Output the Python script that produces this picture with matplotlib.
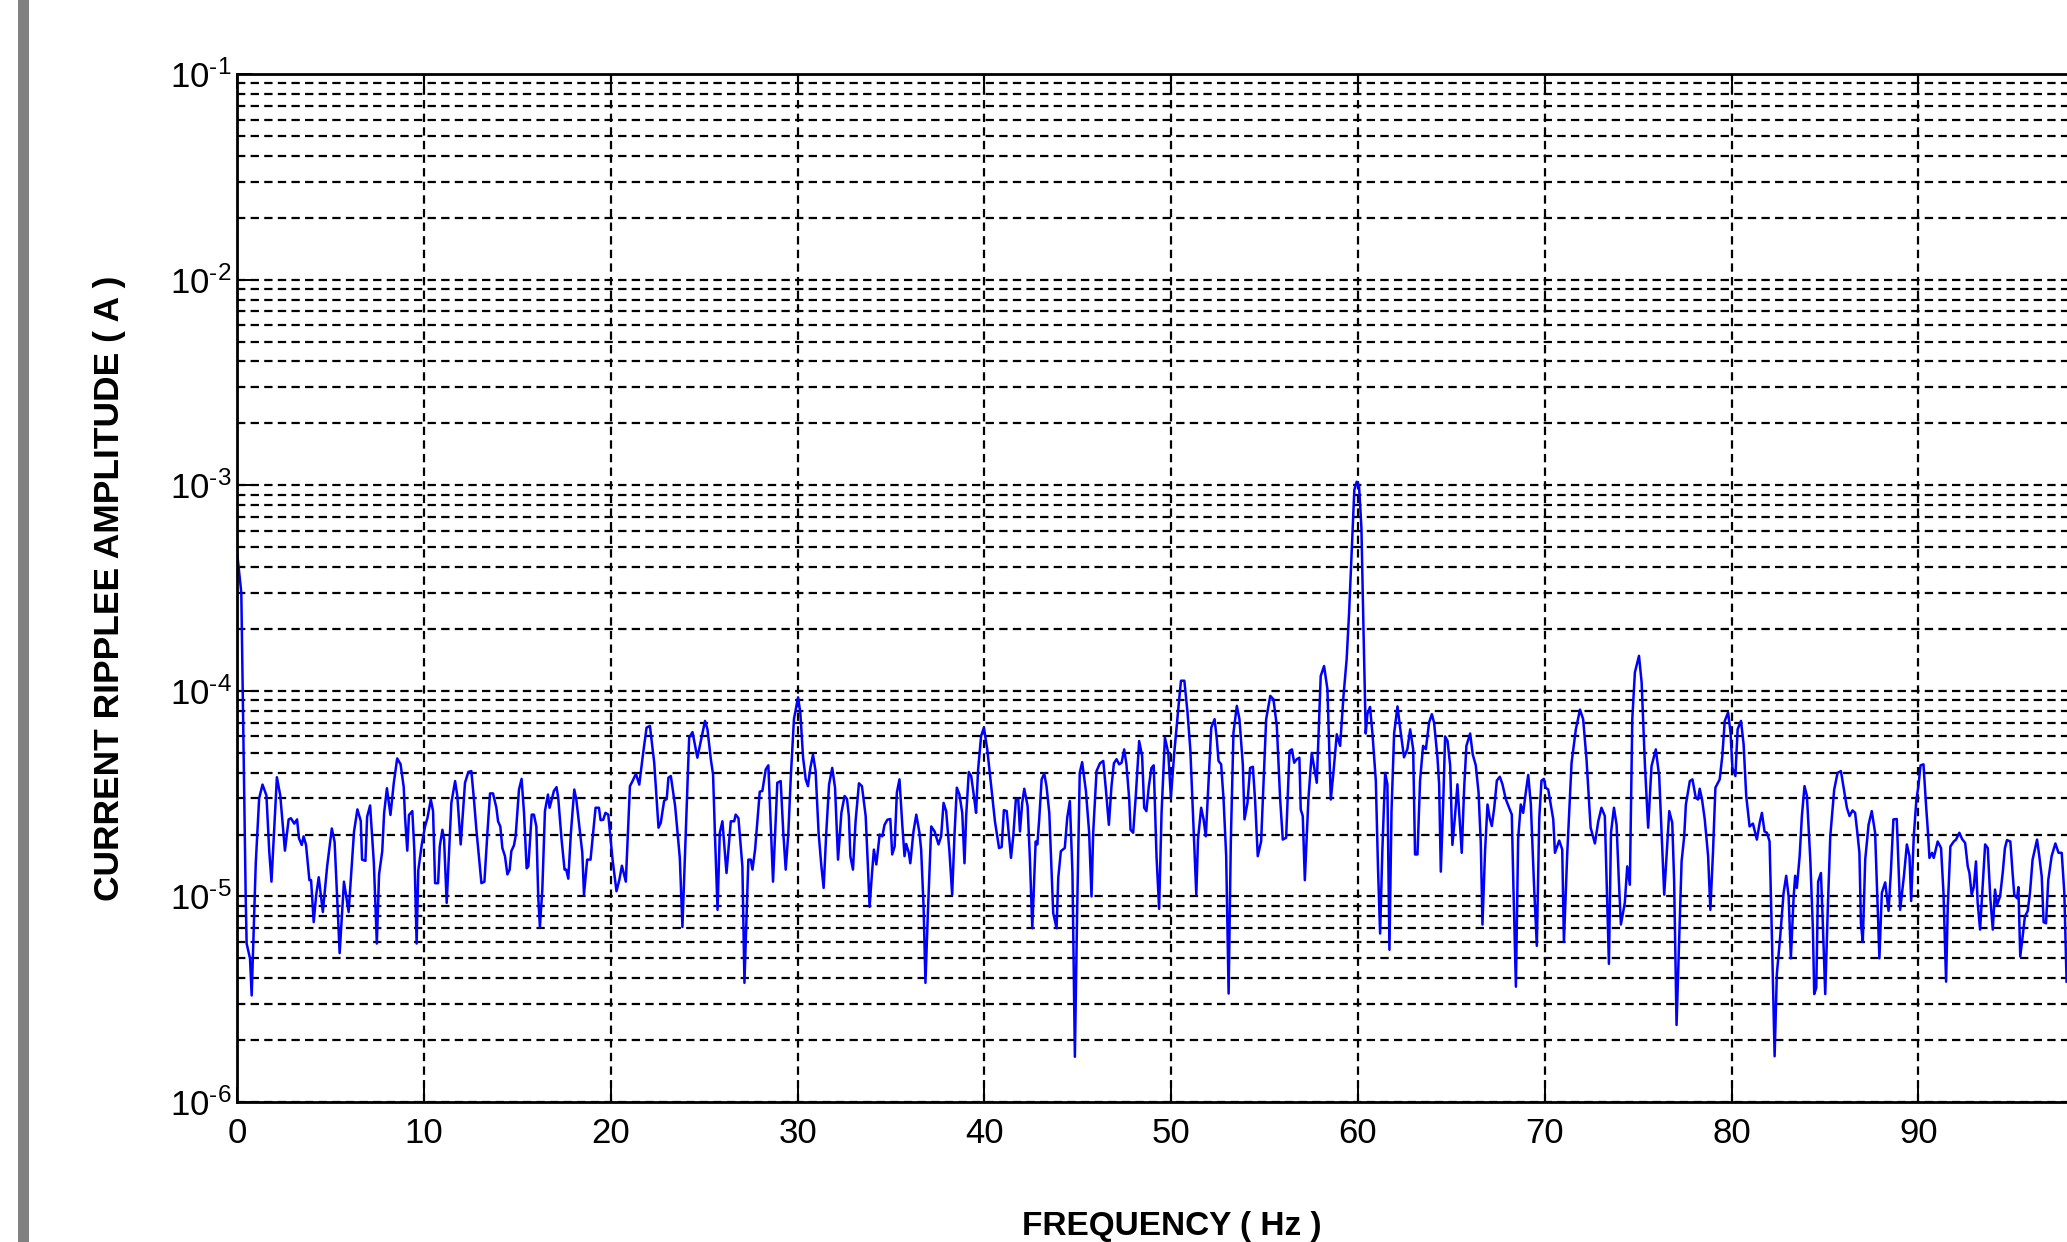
import numpy as np
import matplotlib
matplotlib.use("Agg")
import matplotlib.pyplot as plt
from matplotlib.patches import Rectangle
from matplotlib.ticker import FuncFormatter

# spectrum, (frequency Hz, amplitude uA) per 10 Hz block
seg_00_10 = [
    (0.0, 460), (0.215, 300), (0.45, 9.9), (0.5, 5.9), (0.68, 5.0), (0.77, 3.3),
    (0.99, 14.6), (1.17, 30), (1.35, 35), (1.56, 31), (1.71, 16.6), (1.83, 11.8),
    (2.12, 38), (2.30, 31), (2.55, 16.7), (2.75, 23.7), (2.87, 24), (3.05, 22.6),
    (3.2, 23.7), (3.3, 19.2), (3.45, 17.8), (3.55, 19.6), (3.68, 17.8), (3.86, 12),
    (3.95, 12), (4.09, 7.5), (4.22, 10.1), (4.36, 12.4), (4.58, 8.4), (4.81, 14),
    (5.06, 21.4), (5.21, 18.4), (5.48, 5.3), (5.71, 11.8), (5.96, 8.4), (6.25, 20.7),
    (6.43, 26.5), (6.61, 23.3), (6.68, 15.1), (6.86, 14.9), (6.95, 24.4), (7.11, 27.7),
    (7.31, 14.6), (7.47, 5.9), (7.59, 12.8), (7.76, 16.6), (7.86, 25.4), (8.01, 33.6),
    (8.2, 24.9), (8.38, 35.8), (8.56, 46.9), (8.74, 44), (8.91, 34), (8.98, 24.3),
    (9.1, 16.7), (9.19, 24.9), (9.37, 26), (9.48, 16.6), (9.6, 5.9), (9.69, 13.4),
    (9.88, 18),
]
seg_10_20 = [
    (10.05, 21.9), (10.18, 24.1), (10.36, 29.6), (10.48, 26), (10.59, 11.6), (10.75, 11.6),
    (10.84, 17.5), (10.98, 21.1), (11.07, 18.9), (11.21, 9.3), (11.46, 28.5), (11.66, 36.4),
    (11.78, 30.8), (11.96, 17.9), (12.19, 35.7), (12.37, 40.3), (12.53, 40.7), (12.67, 29.6),
    (12.8, 21.1), (13.07, 11.6), (13.23, 11.8), (13.39, 20.4), (13.53, 31.7), (13.69, 31.7),
    (13.87, 27), (13.96, 23.2), (14.08, 21.9), (14.19, 17.2), (14.33, 15.7), (14.46, 12.8),
    (14.58, 13.5), (14.67, 16.6), (14.81, 17.7), (14.9, 19.6), (15.08, 33.1), (15.22, 37.3),
    (15.35, 25.5), (15.49, 13.7), (15.58, 14), (15.76, 25), (15.88, 25), (16.01, 21.9),
    (16.11, 10), (16.2, 7.1), (16.33, 10.8), (16.47, 26), (16.63, 31.3), (16.72, 27),
    (16.86, 30.2), (16.95, 32.6), (17.09, 34), (17.18, 30.2), (17.36, 18.9), (17.52, 13.5),
    (17.61, 13.5), (17.72, 12.2), (17.86, 20.4), (18.04, 33.1), (18.15, 29.6), (18.29, 22.8),
    (18.47, 16.3), (18.56, 10.2), (18.73, 15.1), (18.91, 15.1), (19.04, 20), (19.18, 27),
    (19.36, 27), (19.45, 23.5), (19.59, 23.6), (19.71, 25.5), (19.86, 25),
]
seg_20_30 = [
    (20.09, 15.1), (20.3, 10.6), (20.45, 12), (20.59, 14.1), (20.8, 11.8), (21.02, 34.4),
    (21.16, 36.4), (21.34, 39.5), (21.52, 35), (21.73, 50), (21.91, 66.2), (22.09, 67.5),
    (22.32, 44.7), (22.55, 21.6), (22.67, 22.8), (22.85, 29.2), (22.99, 29.8), (23.08, 37.8),
    (23.21, 38.5), (23.44, 27.5), (23.69, 15.4), (23.83, 7.1), (23.96, 15.1), (24.19, 59.2),
    (24.37, 63), (24.63, 47.3), (24.87, 60), (25.04, 71.4), (25.17, 65), (25.35, 46.5),
    (25.47, 39.2), (25.58, 18.9), (25.71, 8.6), (25.83, 20.4), (25.97, 23.2), (26.19, 13),
    (26.42, 23.2), (26.6, 23.2), (26.68, 25), (26.83, 24), (27.04, 14), (27.15, 3.8),
    (27.36, 15.1), (27.49, 15.1), (27.58, 13.5), (27.72, 16.9), (27.97, 32.3), (28.11, 32.6),
    (28.29, 41.5), (28.43, 43.4), (28.56, 21.9), (28.68, 11.8), (28.91, 35.7), (29.09, 36.4),
    (29.23, 20.4), (29.36, 13.5), (29.5, 20.4), (29.63, 37.8), (29.8, 72.8),
]
seg_30_40 = [
    (30.02, 93), (30.14, 78.5), (30.29, 47.3), (30.43, 37.1), (30.55, 34.4), (30.68, 42.2),
    (30.82, 49), (30.96, 40.7), (31.12, 20.4), (31.27, 14), (31.39, 11), (31.53, 20.4),
    (31.68, 35), (31.85, 42.2), (32.0, 33.8), (32.16, 15.1), (32.34, 25.5), (32.51, 30.8),
    (32.64, 29.8), (32.74, 24.6), (32.82, 15.7), (32.96, 13.5), (33.1, 23.2), (33.28, 35.5),
    (33.44, 34.4), (33.64, 24.6), (33.76, 14), (33.85, 8.9), (33.98, 13), (34.08, 16.9),
    (34.21, 14.3), (34.39, 20), (34.53, 19.6), (34.65, 22.3), (34.8, 23.6), (34.96, 23.8),
    (35.06, 16), (35.19, 17.5), (35.31, 32), (35.45, 37.1), (35.6, 22.3), (35.72, 15.7),
    (35.81, 18), (35.95, 16.3), (36.03, 14.5), (36.2, 20.7), (36.35, 25), (36.52, 20.4),
    (36.61, 16.9), (36.74, 8.9), (36.84, 3.8), (36.97, 8.3), (37.15, 21.9), (37.33, 20.7),
    (37.54, 17.9), (37.68, 19.6), (37.81, 28.5), (37.95, 26), (38.13, 16.3), (38.27, 10.2),
    (38.4, 20.4), (38.52, 33.8), (38.66, 31.3), (38.81, 25.5), (38.93, 14.5), (39.02, 24.6),
    (39.16, 40.3), (39.29, 38.5), (39.46, 29.6), (39.55, 25.5), (39.66, 41.5), (39.82, 60.3),
]
seg_40_50 = [
    (39.97, 66.2), (40.15, 51.9), (40.38, 33.1), (40.56, 23.2), (40.78, 17.2), (40.92, 17.4),
    (41.04, 26.3), (41.19, 26), (41.42, 15.4), (41.54, 19.6), (41.68, 29.6), (41.81, 29.6),
    (41.9, 20.7), (42.02, 28.5), (42.13, 33.4), (42.31, 27.5), (42.43, 15.4), (42.56, 7.0),
    (42.74, 18.5), (42.83, 17.9), (42.93, 23.7), (43.06, 37.1), (43.2, 39.6), (43.32, 34.4),
    (43.47, 25.5), (43.68, 8.3), (43.86, 7.0), (43.95, 12.3), (44.09, 16.6), (44.3, 17.2),
    (44.43, 24.1), (44.57, 29.1), (44.71, 13), (44.84, 1.66), (44.96, 8.3), (45.1, 39.9),
    (45.23, 45), (45.43, 32.6), (45.6, 20.7), (45.73, 10), (45.82, 20.4), (46.0, 40.7),
    (46.18, 44.4), (46.36, 45.6), (46.5, 33.1), (46.66, 22.3), (46.8, 34.4), (46.93, 44.4),
    (47.07, 46.5), (47.21, 43.9), (47.34, 44.7), (47.48, 51.9), (47.6, 43.9), (47.75, 29.6),
    (47.82, 21.1), (47.96, 20.4), (48.1, 30.8), (48.28, 57), (48.44, 48.2), (48.55, 27),
    (48.67, 26), (48.8, 34.4), (48.94, 42.2), (49.06, 43.4), (49.21, 15.7), (49.35, 8.7),
    (49.48, 25.5), (49.66, 59.2), (49.84, 49.9),
]
seg_50_60 = [
    (49.98, 30.2), (50.16, 49.9), (50.39, 84.5), (50.52, 112), (50.7, 112), (50.87, 78.5),
    (51.02, 51.9), (51.16, 25.5), (51.34, 10.2), (51.43, 18.9), (51.6, 27), (51.73, 23.7),
    (51.85, 19.6), (52.0, 37.1), (52.14, 66.2), (52.32, 72.8), (52.44, 58), (52.53, 45.6),
    (52.67, 43.9), (52.8, 29.6), (52.94, 15.7), (53.07, 3.37), (53.19, 18.9), (53.33, 62.7),
    (53.51, 84.5), (53.65, 72.8), (53.83, 43.9), (53.92, 23.7), (54.08, 28.5), (54.22, 42.2),
    (54.37, 42.7), (54.49, 29.1), (54.63, 15.7), (54.81, 18.5), (54.94, 35.7), (55.08, 72.8),
    (55.3, 94.5), (55.47, 91), (55.65, 67.5), (55.83, 29.6), (55.97, 18.9), (56.15, 19.3),
    (56.33, 51), (56.46, 51.9), (56.58, 44.7), (56.72, 46.5), (56.86, 47.3), (56.93, 26.5),
    (57.04, 24.6), (57.15, 12), (57.34, 29.6), (57.52, 49.9), (57.61, 44.7), (57.79, 35.7),
    (58.0, 118), (58.18, 132), (58.36, 102), (58.54, 29.6), (58.68, 39.9), (58.86, 61.5),
    (59.04, 54), (59.22, 94.5), (59.39, 143), (59.52, 240), (59.65, 450), (59.8, 950),
    (59.93, 1040),
]
seg_60_70 = [
    (60.05, 1000), (60.18, 620), (60.29, 200), (60.41, 62), (60.5, 77), (60.64, 83.5),
    (60.77, 62), (60.95, 36.6), (61.07, 13.5), (61.18, 6.6), (61.3, 16.7), (61.45, 39.9),
    (61.57, 35.1), (61.68, 5.5), (61.79, 25.8), (61.93, 62), (62.11, 84), (62.29, 62),
    (62.46, 47.5), (62.64, 52), (62.79, 65), (62.95, 52), (63.05, 16), (63.18, 16),
    (63.32, 36.6), (63.48, 54), (63.63, 52), (63.8, 70), (63.95, 77), (64.07, 70),
    (64.25, 47.5), (64.34, 35.1), (64.43, 13.2), (64.57, 30.8), (64.66, 60), (64.79, 57),
    (64.93, 43.5), (65.05, 17.8), (65.18, 24), (65.32, 35.1), (65.45, 23), (65.55, 16.3),
    (65.68, 33.7), (65.8, 54), (66.0, 62), (66.14, 49), (66.3, 43.5), (66.45, 32.1),
    (66.57, 18.2), (66.66, 7.3), (66.8, 16.7), (66.93, 28), (67.05, 24), (67.16, 22),
    (67.29, 27), (67.43, 36.6), (67.59, 38.2), (67.73, 35.1), (67.91, 29.7), (68.09, 27),
    (68.23, 25), (68.32, 10.8), (68.45, 3.64), (68.57, 19), (68.71, 28), (68.84, 25.5),
    (68.98, 32.1), (69.11, 39), (69.25, 28), (69.43, 10.8), (69.57, 5.75), (69.7, 24),
    (69.82, 36.6),
]
seg_70_80 = [
    (69.95, 37.3), (70.04, 33.8), (70.18, 33.1), (70.45, 23.7), (70.54, 16.3), (70.77, 18.7),
    (70.93, 16.9), (71.02, 6.0), (71.2, 16.3), (71.43, 44.7), (71.66, 65), (71.88, 81),
    (72.05, 72.8), (72.23, 46.5), (72.45, 21.6), (72.68, 18.1), (72.86, 23.2), (73.03, 27),
    (73.21, 24.6), (73.43, 4.7), (73.54, 20.4), (73.7, 27), (73.84, 22.3), (73.96, 12),
    (74.07, 7.3), (74.28, 9.3), (74.41, 14), (74.55, 11.4), (74.68, 72.8), (74.82, 123),
    (75.04, 148), (75.18, 110), (75.36, 43), (75.53, 21.6), (75.71, 43), (75.94, 51.9),
    (76.12, 38.5), (76.24, 21.1), (76.39, 10.2), (76.66, 26), (76.82, 22.8), (76.92, 12),
    (77.05, 2.37), (77.19, 6.1), (77.32, 14.8), (77.46, 19.6), (77.55, 28), (77.76, 36.4),
    (77.9, 37.1), (78.08, 30.2), (78.2, 29.6), (78.29, 33.4), (78.41, 29.8), (78.56, 23.7),
    (78.74, 15.7), (78.86, 8.6), (79.0, 16.3), (79.13, 33.8), (79.36, 37.1), (79.5, 48.2),
    (79.63, 71.4), (79.81, 78.5), (79.94, 62.7),
]
seg_80_90 = [
    (80.04, 42.2), (80.2, 38.5), (80.32, 65), (80.5, 71.4), (80.64, 55), (80.78, 30.8),
    (80.96, 21.9), (81.14, 22.6), (81.35, 18.9), (81.5, 22.8), (81.62, 25.5), (81.76, 20.7),
    (81.89, 20.4), (82.03, 18.5), (82.16, 6.1), (82.3, 1.67), (82.42, 4.2), (82.6, 6.4),
    (82.78, 10.4), (82.92, 12.6), (83.05, 10), (83.17, 5.0), (83.32, 10), (83.4, 12.6),
    (83.49, 11), (83.64, 15.7), (83.76, 24.6), (83.9, 34.4), (84.03, 30.8), (84.21, 15.1),
    (84.35, 6.9), (84.42, 3.35), (84.53, 3.6), (84.63, 11.8), (84.78, 13), (84.88, 7.4),
    (85.01, 3.35), (85.15, 8.9), (85.28, 19.6), (85.49, 33.1), (85.67, 39.9), (85.85, 40.7),
    (86.02, 32.6), (86.17, 27), (86.31, 24.6), (86.47, 26.2), (86.61, 25.5), (86.74, 20),
    (86.84, 16.3), (86.92, 7.4), (87.02, 6.0), (87.15, 15.1), (87.33, 22.3), (87.5, 26),
    (87.68, 20.4), (87.81, 9.3), (87.91, 5.0), (88.04, 10.4), (88.22, 11.7), (88.4, 8.5),
    (88.52, 13), (88.66, 23.7), (88.84, 23.8), (89.02, 8.6), (89.22, 12.5), (89.38, 17.9),
    (89.52, 15.7), (89.61, 9.5), (89.75, 19.6), (89.89, 29.6),
]
seg_90_98 = [
    (90.0, 34.4), (90.11, 43.4), (90.27, 43.9), (90.41, 27.5), (90.5, 21.1), (90.59, 15.4),
    (90.73, 16.3), (90.82, 15.4), (91.03, 18.5), (91.21, 17.2), (91.34, 10.4), (91.48, 3.85),
    (91.57, 8.9), (91.71, 17.5), (91.89, 18.5), (92.01, 18.9), (92.19, 20.4), (92.34, 19),
    (92.5, 18.2), (92.64, 14), (92.73, 13), (92.85, 10.2), (92.96, 11.1), (93.08, 14.8),
    (93.17, 9.3), (93.3, 6.9), (93.44, 11.4), (93.57, 17.9), (93.71, 17.2), (93.85, 9.7),
    (93.98, 6.9), (94.1, 10.8), (94.21, 9.1), (94.37, 10), (94.51, 13), (94.63, 17.2),
    (94.74, 18.8), (94.92, 18.5), (95.04, 13), (95.13, 10.2), (95.28, 9.8), (95.35, 11.1),
    (95.45, 5.1), (95.58, 6.4), (95.7, 8.0), (95.85, 8.5), (95.97, 10.4), (96.11, 15.1),
    (96.35, 18.9), (96.47, 15.7), (96.6, 12.5), (96.7, 7.5), (96.83, 7.4), (96.95, 12),
    (97.13, 15.7), (97.33, 18.1), (97.5, 16.3), (97.67, 16.3), (97.81, 10.4), (97.93, 3.85),
]
segments = [seg_00_10, seg_10_20, seg_20_30, seg_30_40, seg_40_50,
            seg_50_60, seg_60_70, seg_70_80, seg_80_90, seg_90_98]

freq = np.array([p[0] for s in segments for p in s])
amp = np.array([p[1] for s in segments for p in s]) * 1e-6   # uA -> A

x_ticks = list(range(0, 101, 10))
# 100 sits past the cropped right edge, so no label for it
x_ticklabels = [str(t) for t in x_ticks[:-1]] + ['']

plt.rcParams['font.family'] = ['Liberation Sans', 'DejaVu Sans']
plt.rcParams['mathtext.fontset'] = 'custom'
plt.rcParams['mathtext.rm'] = 'Liberation Sans'
plt.rcParams['mathtext.default'] = 'regular'
plt.rcParams['axes.unicode_minus'] = False
plt.rcParams['lines.scale_dashes'] = False


def pow10_label(v, pos):
    n = int(round(np.log10(v)))
    sign = r'\text{-}' if n < 0 else ''
    return r'$10^{%s%d}$' % (sign, abs(n))


fig = plt.figure(figsize=(20.67, 12.42), dpi=100)
fig.patch.set_facecolor('white')
# grey strip at the left border of the page
fig.add_artist(Rectangle((18 / 2067, 0), 11 / 2067, 1, transform=fig.transFigure,
                         color='#808080', lw=0))

# axes runs past the right edge (picture is cropped at ~98 Hz)
ax = fig.add_axes([0.1148, 0.1127, 0.9037, 0.8277])
ax.plot(freq, amp, color='#0000ff', lw=1.8)
ax.set_yscale('log')
ax.set_ylim(1e-6, 1e-1)
ax.set_xlim(0, 100)
ax.set_xticks(x_ticks)
ax.set_xticklabels(x_ticklabels)
ax.yaxis.set_major_formatter(FuncFormatter(pow10_label))

dash = (0, (6.0, 3.8))
ax.grid(True, which='major', axis='both', color='k', linestyle=dash, lw=1.6)
ax.grid(True, which='minor', axis='y', color='k', linestyle=dash, lw=1.6)

ax.tick_params(which='both', direction='in', top=True, right=True, width=1.4)
ax.tick_params(which='major', length=11, labelsize=25)
ax.tick_params(which='minor', length=6)
ax.tick_params(axis='x', pad=11)
ax.tick_params(axis='y', pad=4)
for sp in ax.spines.values():
    sp.set_linewidth(2.0)

ax.set_xlabel('FREQUENCY ( Hz )', fontsize=24, fontweight='bold')
ax.xaxis.set_label_coords(0.5, -0.106)
ax.set_ylabel('CURRENT RIPPLEE AMPLITUDE ( A )', fontsize=25.5, fontweight='bold')
ax.yaxis.set_label_coords(-0.0595, 0.5)

fig.savefig('out.png', dpi=100)
